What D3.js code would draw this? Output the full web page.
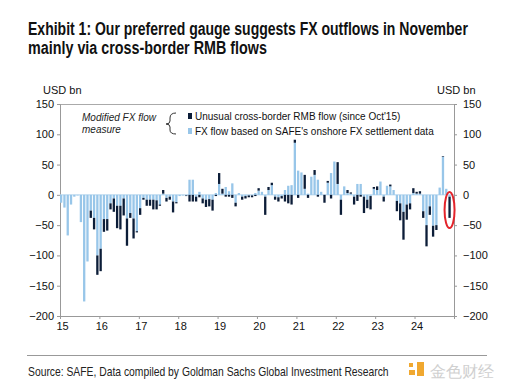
<!DOCTYPE html>
<html>
<head>
<meta charset="utf-8">
<script src="https://cdn.jsdelivr.net/npm/d3@7"></script>
<style>
body { margin:0; background:#fff; }
svg text { font-family: "Liberation Sans", Arial, sans-serif; }
</style>
</head>
<body>
<svg id="chart"></svg>
<script>
// monthly values, Jan 2015 .. Nov 2024 (USD bn)
var fxFlow = [
 -13,-21,-67,-16,-3,-1,-45,-176,-110,-26,-38,-100,
 -89,-40,-40,-14,-6,-18,-18,-6,-39,-30,-39,-60,
 -22,-5,-8,-8,-8,-9,-16,2,-5,-3,-11,-12,
 -2,-1,-1,25,25,-3,5,-6,-8,-7,-8,3,
 18,2,13,6,19,-13,3,-3,-2,-1,-1,3,
 7,5,-3,8,16,-3,-4,-2,8,15,16,86,
 40,37,10,2,30,33,25,5,0,20,36,55,
 18,-8,14,3,2,-3,18,18,-3,-8,-2,10,
 8,22,-3,15,14,8,-10,-14,-28,-16,-14,3,
 2,2,-27,-50,-19,-51,-50,12,63,10,-3
];
var rmbFlow = [
 0,0,0,0,0,0,0,0,0,-12,-19,-32,
 -37,-21,-19,-10,-22,-37,-39,-28,-45,-8,-33,-2,
 -11,-3,-10,-10,-16,-15,-2,6,-6,-5,-18,-2,
 0,0,-1,-11,-11,-8,-4,-8,-12,-12,-18,-2,
 18,8,-3,-3,-5,-6,0,-5,-4,-3,-3,-2,
 4,0,-30,5,4,-5,-7,-4,-11,-14,-16,5,
 -5,0,23,-5,0,8,-3,0,-13,3,-6,0,
 36,-25,0,5,2,-13,-10,-3,-27,-14,-22,3,
 6,0,-8,0,3,0,-17,-28,-46,-25,-10,8,
 3,4,-11,-35,-14,-18,-8,0,1,0,-35
];
var yTicks = [150,100,50,0,-50,-100,-150,-200];
var yearLabels = ["15","16","17","18","19","20","21","22","23","24"];

var W = 507, H = 388;
var svg = d3.select("#chart").attr("width", W).attr("height", H);
var plot = {left:60, right:454, top:104, bottom:316};

var months = d3.range(120).map(function(i){ return new Date(2015, i, 1); });
var entries = fxFlow.map(function(v, i){
    return {date: months[i], fx: v, rmb: rmbFlow[i]};
});

var xBand = d3.scaleBand()
    .domain(months.map(function(d){ return +d; }))
    .range([plot.left, plot.right])
    .paddingInner(0.3);
var xTime = d3.scaleTime()
    .domain([new Date(2015,0,1), new Date(2025,0,1)])
    .range([plot.left, plot.right]);
var yScale = d3.scaleLinear()
    .domain([-200,150])
    .range([plot.bottom, plot.top]);

// squeezed text (condensed look): scale horizontally to a target width
var narrowText = function(x, y, size, weight, width, msg, fill)
{
    var g = svg.append("g");
    var t = g.append("text").attr("font-size", size).attr("font-weight", weight)
        .attr("fill", fill).text(msg);
    var w = t.node().getComputedTextLength();
    g.attr("transform","translate("+x+","+y+") scale("+(width/w)+",1)");
}

// title
narrowText(28, 35, 18, "bold", 440, "Exhibit 1: Our preferred gauge suggests FX outflows in November", "#111");
narrowText(28, 54, 18, "bold", 239, "mainly via cross-border RMB flows", "#111");

// frame
svg.append("line").attr("x1",plot.left).attr("x2",plot.right)
    .attr("y1",plot.top+0.5).attr("y2",plot.top+0.5)
    .attr("stroke","#aaa");

// axes
var axisL = svg.append("g").attr("transform","translate("+plot.left+",0)")
    .call(d3.axisLeft(yScale).tickValues(yTicks).tickSize(3).tickPadding(3));
var axisR = svg.append("g").attr("transform","translate("+plot.right+",0)")
    .call(d3.axisRight(yScale).tickValues(yTicks).tickSize(3).tickPadding(6));
var axisB = svg.append("g").attr("transform","translate(0,"+plot.bottom+")")
    .call(d3.axisBottom(xTime).ticks(d3.timeYear.every(1)).tickSize(3).tickPadding(3)
        .tickFormat(function(d, i){ return yearLabels[i] || ""; }));
[axisL, axisR, axisB].forEach(function(a){
    a.selectAll("path,line").attr("stroke","#999");
    a.selectAll("text").attr("font-size",11).attr("fill","#111")
        .attr("font-family","Liberation Sans, Arial, sans-serif");
});
axisB.selectAll("text").attr("dx",2);

svg.append("text").attr("x",43).attr("y",94).attr("font-size",11).attr("fill","#111").text("USD bn");
svg.append("text").attr("x",437).attr("y",94).attr("font-size",11).attr("fill","#111").text("USD bn");

// stacked bars
var stack = d3.stack().keys(["fx","rmb"]).offset(d3.stackOffsetDiverging);
var series = stack(entries);
var colors = {fx:"#98c6e9", rmb:"#0c1d38"};

svg.append("line").attr("x1",plot.left).attr("x2",plot.right)
    .attr("y1",yScale(0)).attr("y2",yScale(0))
    .attr("stroke","#b7d6ee").attr("stroke-width",1);

svg.append("g").selectAll("g")
    .data(series)
    .enter().append("g")
    .attr("fill", function(s){ return colors[s.key]; })
    .selectAll("rect")
    .data(function(s){ return s; })
    .enter().append("rect")
    .attr("x", function(d){ return xBand(+d.data.date); })
    .attr("width", xBand.bandwidth())
    .attr("y", function(d){ return yScale(Math.max(d[0], d[1])); })
    .attr("height", function(d){ return Math.abs(yScale(d[0]) - yScale(d[1])); });

// red highlight on last month
var last = months[118];
svg.append("ellipse")
    .attr("cx", xBand(+last) + xBand.bandwidth()/2)
    .attr("cy", yScale(-25))
    .attr("rx", 5).attr("ry", 18)
    .attr("fill","none").attr("stroke","#e3242b").attr("stroke-width",2);

// legend
var leg = svg.append("g");
leg.append("text").attr("x",82).attr("y",121).attr("font-size",10).attr("font-style","italic")
    .attr("fill","#222").text("Modified FX flow");
leg.append("text").attr("x",82).attr("y",133).attr("font-size",10).attr("font-style","italic")
    .attr("fill","#222").text("measure");
leg.append("path")
    .attr("d","M176,113 Q170,113 170,118 L170,121 Q170,124 166,124 Q170,124 170,127 L170,130 Q170,134 176,134")
    .attr("fill","none").attr("stroke","#333").attr("stroke-width",1);
var items = [
    {label:"Unusual cross-border RMB flow (since Oct'15)", color:colors.rmb, y:117},
    {label:"FX flow based on SAFE's onshore FX settlement data", color:colors.fx, y:132}
];
items.forEach(function(it){
    leg.append("rect").attr("x",188).attr("y",it.y-4).attr("width",4).attr("height",6).attr("fill",it.color);
    leg.append("text").attr("x",195).attr("y",it.y+3).attr("font-size",10).attr("fill","#111").text(it.label);
});

// source
svg.append("line").attr("x1",27).attr("x2",487).attr("y1",355.5).attr("y2",355.5).attr("stroke","#999");
narrowText(28, 376, 13, "normal", 361, "Source: SAFE, Data compiled by Goldman Sachs Global Investment Research", "#222");

// watermark
var wm = svg.append("g");
wm.append("rect").attr("x",409).attr("y",370).attr("width",6).attr("height",5).attr("fill","#f0a830");
wm.append("rect").attr("x",417).attr("y",362).attr("width",7).attr("height",14).attr("fill","#f0a830");
wm.append("rect").attr("x",409).attr("y",363).attr("width",4).attr("height",4).attr("fill","#f0a830");
wm.append("text").attr("x",430).attr("y",377).attr("font-size",16)
    .attr("font-family","Noto Sans CJK SC, sans-serif").attr("fill","#d0d0d0").text("金色财经");
</script>
</body>
</html>
